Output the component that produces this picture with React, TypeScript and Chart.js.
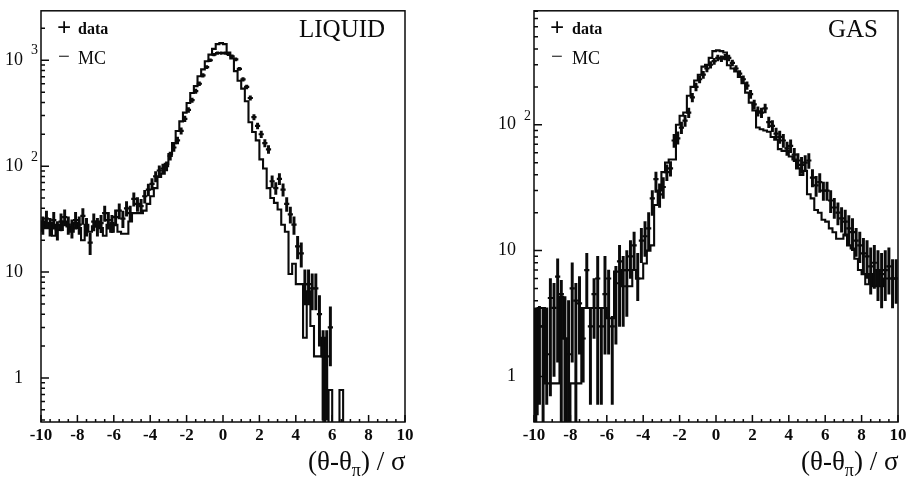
import { useEffect, useRef } from "react";
import { Chart, registerables } from "chart.js";

Chart.register(...registerables);

// bins are 0.2 wide, first value is the bin -10..-9.8
const liquidMc = [
  24, 30, 26, 29, 22, 28, 25, 30, 27, 24, 29, 26, 20, 28, 24, 27, 30, 26, 22, 28,
  24, 28, 24, 23, 23, 30, 36, 36, 36, 38, 44, 52, 62, 79, 85, 105, 130, 165, 215, 265,
  320, 395, 490, 570, 705, 820, 980, 1130, 1280, 1420,
  1450, 1420, 1180, 1040, 790, 640, 540, 410, 260, 210,
  175, 116, 95, 62, 50, 45, 39, 28, 24, 9.6,
  12, 7.7, 7.7, 2.4, 6.6, 3.1, 1.6, 1.6, 2.4, 0.1,
  0.77, 0.1, 0.1, 0.77, 0.1, 0.1, 0.1, 0.1, 0.1, 0.1,
  0.1, 0.1, 0.1, 0.1, 0.1, 0.1, 0.1, 0.1, 0.1, 0.1,
];
const liquidData = [
  28, 32, 27, 31, 25, 30, 33, 28, 26, 31, 28, 34, 27, 19, 30, 27, 29, 36, 31, 29,
  33, 38, 32, 40, 36, 49, 44, 42, 52, 60, 68, 80, 91, 95, 100, 125, 150, 175, 215, 280,
  340, 420, 510, 600, 720, 860, 1000, 1130, 1170, 1170,
  1170, 1140, 1090, 1020, 830, 660, 560, 440, 290, 240,
  200, 165, 144, 72, 62, 76, 60, 44, 35, 28,
  17.5, 15, 7.7, 7.7, 7, 7, 4, 1.6, 1.6, 3,
];
const liquidErr = [
  5.3, 5.7, 5.2, 5.6, 5, 5.5, 5.7, 5.3, 5.1, 5.6, 5.3, 5.8, 5.2, 4.4, 5.5, 5.2, 5.4, 6, 5.6, 5.4,
  5.7, 6.2, 5.7, 6.3, 6, 7, 6.6, 6.5, 7.2, 7.7, 8.2, 9, 9.5, 9.7, 10, 11, 12, 13, 15, 17,
  18, 20, 23, 24, 27, 29, 32, 34, 34, 34,
  34, 34, 33, 32, 29, 26, 24, 21, 17, 15,
  14, 13, 12, 9, 8, 9, 8, 6.6, 6, 5.3,
  4.2, 3.9, 2.8, 2.8, 2.6, 2.6, 2, 1.2, 1.2, 1.7,
];

const gasMc = [
  3.5, 0.5, 3.5, 3.5, 0.88, 0.88, 0.88, 0.88, 4.3, 2, 0.1, 0.88, 0.88, 0.88, 3.5, 3.5, 3.5, 3.5, 3.5, 3.5,
  3.5, 2.9, 2.9, 6.8, 6.8, 5.2, 5.2, 5.2, 7, 6, 6, 7.9, 10, 11, 23, 30, 42, 50, 53, 53,
  100, 118, 125, 170, 200, 225, 250, 290, 300, 340,
  385, 390, 385, 375, 297, 280, 265, 240, 214, 180,
  150, 130, 95, 92, 90, 88, 80, 76, 64, 62,
  62, 56, 53, 45, 40, 43, 28, 26, 21, 20,
  17.6, 17, 15, 14, 12.4, 12.4, 13.4, 11, 10.4, 8.6,
  7, 6.5, 5.4, 6.5, 5.2, 7, 5.2, 6, 6, 6,
];
const gasData = [
  2.5, 2.5, 2.5, 1.5, 4.2, 3.5, 6.2, 4.5, 2, 1.5, 5, 4, 3.8, 2, 7, 2.5, 4.5, 6, 2.5, 4.5,
  6, 2.5, 5.5, 8.2, 7, 7, 9, 11, 6, 12, 13, 15, 26, 37, 28, 32, 42, 45, 75, 78,
  95, 108, 125, 165, 200, 230, 250, 280, 300, 320,
  340, 335, 345, 340, 310, 280, 255, 230, 205, 175,
  145, 128, 125, 135, 105, 98, 85, 80, 75, 65,
  68, 58, 52, 48, 50, 52, 38, 33, 35, 30,
  30, 25, 22, 20, 18, 17, 15, 14, 12, 11,
  9.5, 9, 7.5, 8, 7, 6.5, 7, 7.5, 6, 6,
];
const gasLow = [
  0.3, 0.6, 0.3, 0.6, 0.7, 1, 1.3, 0.3, 0.3, 0.3, 1.3, 0.3, 1.5, 0.9, 3.5, 0.6, 2, 0.6, 0.6, 1.5,
  1.5, 0.6, 1.8, 2.5, 2.5, 3, 6, 7, 4, 8, 9, 10, 19, 29, 22, 26, 36, 39, 66, 70,
  85, 97, 114, 152, 186, 215, 234, 263, 282, 302,
  322, 317, 327, 322, 293, 264, 240, 215, 191, 162,
  133, 117, 114, 124, 95, 88, 76, 71, 66, 57,
  60, 51, 45, 41, 43, 45, 32, 27, 29, 25,
  25, 20, 18, 16, 14, 13, 11, 10, 9, 8,
  6.5, 6, 4.5, 5, 4, 3.5, 4, 4.5, 3.5, 3.8,
];
const gasHigh = [
  3.5, 3.6, 3.5, 3.5, 6, 5.5, 8.6, 5.8, 4.3, 4, 8, 5.5, 6.2, 3.5, 9.5, 3.5, 6, 9, 3.5, 9,
  7, 3, 7.5, 11, 9, 10, 12, 14, 9.5, 15, 17, 20, 30, 42, 34, 38, 48, 51, 84, 88,
  105, 119, 136, 178, 214, 245, 266, 297, 318, 338,
  358, 353, 363, 358, 327, 296, 270, 245, 219, 188,
  157, 139, 136, 146, 115, 108, 94, 89, 84, 73,
  76, 65, 59, 55, 57, 59, 44, 39, 41, 35,
  35, 30, 26, 24, 22, 21, 19, 18, 15, 14,
  12.5, 12, 10.5, 11, 10, 9.5, 10, 10.5, 8.5, 8.5,
];

const xLabels = [-10, -8, -6, -4, -2, 0, 2, 4, 6, 8, 10];
const yDecades = [1, 10, 100, 1000];
const yMinors = [0.4, 0.5, 0.6, 0.7, 0.8, 0.9, 2, 3, 4, 5, 6, 7, 8, 9, 20, 30, 40, 50, 60, 70, 80, 90, 200, 300, 400, 500, 600, 700, 800, 900, 2000];

const SERIF = '"Liberation Serif", serif';
const INK = "#0a0a0a";

// the exponents are separate labels, a canvas tick cannot raise them
const yLabel = (v: number) => {
  if (v === 1000 || v === 100 || v === 10) return "10    ";
  if (v === 1) return "1    ";
  return "";
};

// frame plus inward tick marks, the way the old plot has them
const frameTicks = {
  id: "frameTicks",
  beforeDatasetsDraw(chart: any) {
    const { ctx, chartArea: a, scales } = chart;
    ctx.save();
    ctx.strokeStyle = INK;
    ctx.lineWidth = 1.5;
    ctx.strokeRect(a.left, a.top, a.right - a.left, a.bottom - a.top);
    ctx.beginPath();
    scales.x.ticks.forEach((t: any) => {
      const px = scales.x.getPixelForValue(t.value);
      const len = xLabels.includes(t.value) ? 7 : 3;
      ctx.moveTo(px, a.bottom);
      ctx.lineTo(px, a.bottom - len);
    });
    scales.y.ticks.forEach((t: any) => {
      const py = scales.y.getPixelForValue(t.value);
      const len = yDecades.includes(t.value) ? 8 : 4;
      ctx.moveTo(a.left, py);
      ctx.lineTo(a.left + len, py);
    });
    ctx.stroke();
    ctx.restore();
  },
};

interface PanelProps {
  left: number;
  axisLeft: number;
  paddingRight: number;
  yMin: number;
  yMax: number;
  mc: number[];
  data: number[];
  low: number[];
  high: number[];
}

function Panel({ left, axisLeft, paddingRight, yMin, yMax, mc, data, low, high }: PanelProps) {
  const canvasRef = useRef<HTMLCanvasElement | null>(null);

  useEffect(() => {
    const binLeft = (i: number) => -10 + i * 0.2;
    const binMid = (i: number) => -9.9 + i * 0.2;
    const steps = mc.map((y, i) => ({ x: binLeft(i), y }));
    steps.push({ x: 10, y: mc[mc.length - 1] });

    const chart = new Chart(canvasRef.current!, {
      type: "line",
      data: {
        datasets: [
          {
            type: "bar",
            label: "data error",
            data: data.map((_, i) => ({ x: binMid(i), y: [low[i], high[i]] })) as any,
            backgroundColor: INK,
            barThickness: 2.3,
            grouped: false,
          },
          {
            type: "line",
            label: "data",
            data: data.map((y, i) => ({ x: binMid(i), y })),
            showLine: false,
            pointStyle: "line",
            pointRadius: 2.6,
            pointBorderWidth: 2.2,
            pointBorderColor: INK,
          },
          {
            type: "line",
            label: "MC",
            data: steps,
            stepped: "after",
            borderColor: INK,
            borderWidth: 2.1,
            pointRadius: 0,
            tension: 0,
          },
        ],
      },
      options: {
        animation: false,
        responsive: false,
        layout: { padding: { top: 7, right: paddingRight, left: 0, bottom: 0 } },
        plugins: { legend: { display: false }, tooltip: { enabled: false } },
        scales: {
          x: {
            type: "linear",
            min: -10,
            max: 10,
            offset: false,
            grid: { display: false, drawTicks: false },
            border: { display: false },
            afterFit: (s: any) => {
              s.height = 62;
            },
            ticks: {
              stepSize: 0.5,
              autoSkip: false,
              maxRotation: 0,
              padding: 3,
              color: INK,
              font: { family: SERIF, size: 17, weight: "bold" },
              callback: (v: any) => (xLabels.includes(v) ? String(v) : ""),
            },
          },
          y: {
            type: "logarithmic",
            min: yMin,
            max: yMax,
            grid: { display: false, drawTicks: false },
            border: { display: false },
            afterFit: (s: any) => {
              s.width = axisLeft;
            },
            afterBuildTicks: (s: any) => {
              s.ticks = [...yDecades, ...yMinors]
                .filter((v) => v >= yMin && v <= yMax)
                .sort((a, b) => a - b)
                .map((value) => ({ value }));
            },
            ticks: {
              autoSkip: false,
              padding: 0,
              color: INK,
              font: { family: SERIF, size: 18 },
              callback: (v: any) => yLabel(v),
            },
          },
        },
      } as any,
      plugins: [frameTicks],
    });

    return () => chart.destroy();
  }, []);

  return (
    <canvas
      ref={canvasRef}
      width={455}
      height={484}
      style={{ position: "absolute", left, top: 0, width: 455, height: 484 }}
    />
  );
}

function Label({ x, y, size, bold, children }: any) {
  return (
    <div
      style={{
        position: "absolute",
        left: x,
        top: y,
        fontFamily: SERIF,
        fontSize: size,
        fontWeight: bold ? "bold" : "normal",
        lineHeight: 1,
        color: INK,
        whiteSpace: "nowrap",
      }}
    >
      {children}
    </div>
  );
}

function AxisTitle({ x }: { x: number }) {
  return (
    <Label x={x} y={448} size={27}>
      (θ-θ<sub style={{ fontSize: 18, lineHeight: 0 }}>π</sub>) / σ
    </Label>
  );
}

export default function App() {
  return (
    <div style={{ position: "fixed", left: 0, top: 0, width: 910, height: 484, background: "#fff", overflow: "hidden" }}>
      <Panel left={0} axisLeft={41} paddingRight={50} yMin={0.384} yMax={2930} mc={liquidMc} data={liquidData}
        low={liquidData.map((v, i) => v - liquidErr[i])} high={liquidData.map((v, i) => v + liquidErr[i])} />
      <Panel left={455} axisLeft={79} paddingRight={12} yMin={0.434} yMax={805} mc={gasMc} data={gasData} low={gasLow} high={gasHigh} />

      <Label x={31} y={43} size={14}>3</Label>
      <Label x={31} y={150} size={14}>2</Label>
      <Label x={524} y={109} size={14}>2</Label>

      <Label x={57} y={15} size={25} bold>+</Label>
      <Label x={78} y={21} size={16} bold>data</Label>
      <Label x={58} y={46} size={21}>−</Label>
      <Label x={78} y={49} size={18}>MC</Label>
      <Label x={299} y={16} size={25}>LIQUID</Label>
      <AxisTitle x={308} />

      <Label x={550} y={15} size={25} bold>+</Label>
      <Label x={572} y={21} size={16} bold>data</Label>
      <Label x={551} y={46} size={21}>−</Label>
      <Label x={572} y={49} size={18}>MC</Label>
      <Label x={828} y={16} size={25}>GAS</Label>
      <AxisTitle x={801} />
    </div>
  );
}
